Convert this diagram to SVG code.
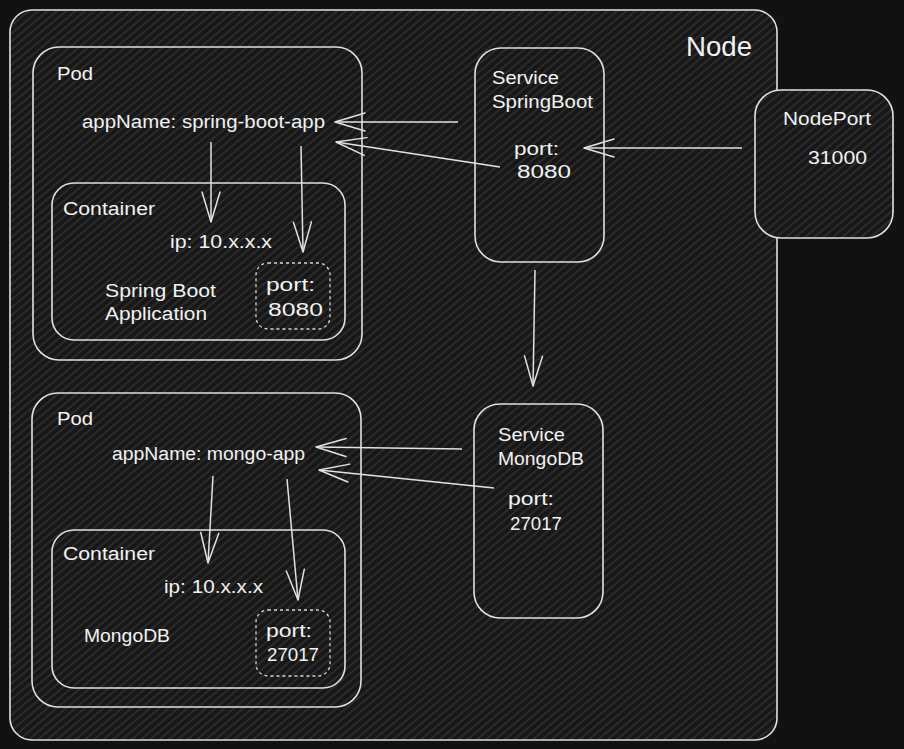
<svg xmlns="http://www.w3.org/2000/svg" width="904" height="749" viewBox="0 0 904 749">
<defs>
<pattern id="hatch" width="6" height="6" patternUnits="userSpaceOnUse" patternTransform="rotate(-40)">
<rect width="6" height="6" fill="#171717"/>
<line x1="0" y1="3" x2="6" y2="3" stroke="#303030" stroke-width="1.6"/>
</pattern>
<marker id="arr" markerUnits="userSpaceOnUse" markerWidth="40" markerHeight="30" refX="0" refY="0" viewBox="-32 -15 40 30" orient="auto" overflow="visible">
<path d="M -30 -9 L 0 0 L -30 9" fill="none" stroke="#e2e2e2" stroke-width="1.5" stroke-linecap="round" stroke-linejoin="round"/>
</marker>
<style>
.box{fill:url(#hatch);stroke:#e0e0e0;stroke-width:1.6}
.dash{fill:url(#hatch);stroke:#d8d8d8;stroke-width:1.3;stroke-dasharray:3 3}
.t{font-family:"Liberation Sans","Noto Sans",sans-serif;font-size:18px;fill:#f2f2f2}
.big{font-size:28px}
.c{fill:none;stroke:#e2e2e2;stroke-width:1.5;marker-end:url(#arr)}
</style>
</defs>
<rect width="904" height="749" fill="#121212"/>

<g id="node">
<rect class="box" x="10" y="10" width="767" height="730" rx="22"/>
<text class="t big" x="686" y="56" textLength="66" lengthAdjust="spacingAndGlyphs">Node</text>
</g>

<g id="pod1">
<rect class="box" x="33" y="47" width="329" height="313" rx="26"/>
<text class="t" x="57" y="80" textLength="36" lengthAdjust="spacingAndGlyphs">Pod</text>
<text class="t" x="82" y="128" textLength="243" lengthAdjust="spacingAndGlyphs">appName: spring-boot-app</text>
</g>

<g id="container1">
<rect class="box" x="52" y="183" width="293" height="157" rx="22"/>
<text class="t" x="63" y="215" textLength="92" lengthAdjust="spacingAndGlyphs">Container</text>
<text class="t" x="170" y="248" textLength="102" lengthAdjust="spacingAndGlyphs">ip: 10.x.x.x</text>
<text class="t" x="105" y="297" textLength="111" lengthAdjust="spacingAndGlyphs">Spring Boot</text>
<text class="t" x="105" y="320" textLength="102" lengthAdjust="spacingAndGlyphs">Application</text>
</g>

<g id="port1">
<rect class="dash" x="256" y="263" width="74" height="66" rx="12"/>
<text class="t" x="266" y="291" textLength="49" lengthAdjust="spacingAndGlyphs">port:</text>
<text class="t" x="268" y="316" textLength="55" lengthAdjust="spacingAndGlyphs">8080</text>
</g>

<g id="svc-springboot">
<rect class="box" x="475" y="48" width="129" height="214" rx="26"/>
<text class="t" x="492" y="84" textLength="67" lengthAdjust="spacingAndGlyphs">Service</text>
<text class="t" x="492" y="108" textLength="101" lengthAdjust="spacingAndGlyphs">SpringBoot</text>
<text class="t" x="514" y="155" textLength="45" lengthAdjust="spacingAndGlyphs">port:</text>
<text class="t" x="517" y="178" textLength="54" lengthAdjust="spacingAndGlyphs">8080</text>
</g>

<g id="nodeport">
<rect class="box" x="755" y="90" width="138" height="148" rx="26"/>
<text class="t" x="783" y="125" textLength="88" lengthAdjust="spacingAndGlyphs">NodePort</text>
<text class="t" x="808" y="164" textLength="59" lengthAdjust="spacingAndGlyphs">31000</text>
</g>

<g id="pod2">
<rect class="box" x="32" y="393" width="329" height="314" rx="26"/>
<text class="t" x="57" y="425" textLength="36" lengthAdjust="spacingAndGlyphs">Pod</text>
<text class="t" x="112" y="460" textLength="193" lengthAdjust="spacingAndGlyphs">appName: mongo-app</text>
</g>

<g id="container2">
<rect class="box" x="52" y="530" width="293" height="158" rx="22"/>
<text class="t" x="63" y="560" textLength="92" lengthAdjust="spacingAndGlyphs">Container</text>
<text class="t" x="164" y="593" textLength="99" lengthAdjust="spacingAndGlyphs">ip: 10.x.x.x</text>
<text class="t" x="84" y="642" textLength="86" lengthAdjust="spacingAndGlyphs">MongoDB</text>
</g>

<g id="port2">
<rect class="dash" x="256" y="610" width="74" height="66" rx="12"/>
<text class="t" x="266" y="637" textLength="46" lengthAdjust="spacingAndGlyphs">port:</text>
<text class="t" x="267" y="661" textLength="52" lengthAdjust="spacingAndGlyphs">27017</text>
</g>

<g id="svc-mongodb">
<rect class="box" x="474" y="404" width="129" height="214" rx="26"/>
<text class="t" x="498" y="441" textLength="67" lengthAdjust="spacingAndGlyphs">Service</text>
<text class="t" x="498" y="465" textLength="86" lengthAdjust="spacingAndGlyphs">MongoDB</text>
<text class="t" x="508" y="505" textLength="46" lengthAdjust="spacingAndGlyphs">port:</text>
<text class="t" x="510" y="530" textLength="52" lengthAdjust="spacingAndGlyphs">27017</text>
</g>

<g id="connectors">
<path class="c" d="M 458 122 L 335 122"/>
<path class="c" d="M 500 167 L 336 142"/>
<path class="c" d="M 742 148 L 584 148"/>
<path class="c" d="M 211 142 L 211 222"/>
<path class="c" d="M 301 146 L 303 252"/>
<path class="c" d="M 535 270 L 533 386"/>
<path class="c" d="M 462 449 L 316 447"/>
<path class="c" d="M 494 488 L 319 470"/>
<path class="c" d="M 213 476 L 208 563"/>
<path class="c" d="M 287 479 L 298 600"/>
</g>
</svg>
